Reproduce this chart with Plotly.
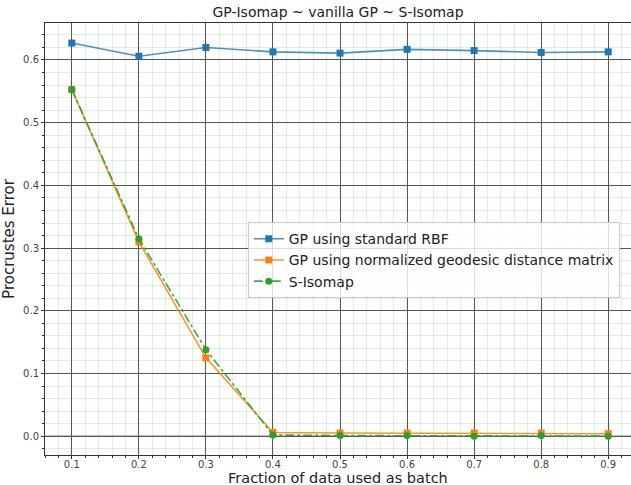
import plotly.graph_objects as go

fractions = [0.1, 0.2, 0.3, 0.4, 0.5, 0.6, 0.7, 0.8, 0.9]
gp_rbf = [0.627, 0.606, 0.620, 0.613, 0.611, 0.617, 0.615, 0.612, 0.613]
gp_geodesic = [0.553, 0.310, 0.125, 0.006, 0.005, 0.005, 0.005, 0.005, 0.004]
s_isomap = [0.553, 0.315, 0.138, 0.002, 0.001, 0.001, 0.000, 0.001, 0.000]
x_ticks = [0.1, 0.2, 0.3, 0.4, 0.5, 0.6, 0.7, 0.8, 0.9]
y_ticks = [0.0, 0.1, 0.2, 0.3, 0.4, 0.5, 0.6]

FONT = "DejaVu Sans"
PLOT_H = 485 - 23 - 30

fig = go.Figure()
fig.add_trace(go.Scatter(
    x=fractions, y=gp_rbf, mode="lines+markers", name="GP using standard RBF",
    line=dict(color="rgba(31,119,180,0.8)", width=1.6),
    marker=dict(symbol="square", size=7, color="#1f77b4"),
))
fig.add_trace(go.Scatter(
    x=fractions, y=gp_geodesic, mode="lines+markers",
    name="GP using normalized geodesic distance matrix",
    line=dict(color="rgba(255,127,14,0.85)", width=1.6),
    marker=dict(symbol="square", size=7, color="#ff7f0e"),
))
fig.add_trace(go.Scatter(
    x=fractions, y=s_isomap, mode="lines+markers", name="S-Isomap",
    line=dict(color="rgba(44,160,44,0.9)", width=1.6, dash="dashdot"),
    marker=dict(symbol="circle", size=7, color="#2ca02c"),
))

axis_common = dict(
    showgrid=True, gridcolor="#555555", gridwidth=1,
    showline=True, linecolor="#333333", linewidth=1, mirror=True,
    ticks="outside", ticklen=3, tickcolor="#333333",
    tickfont=dict(family=FONT, size=10, color="#444444"),
    zeroline=False, automargin=False,
)

fig.update_xaxes(
    **axis_common,
    ticklabelstandoff=-3,
    range=[0.06, 0.934], tickvals=x_ticks, ticktext=[f"{v:.1f}" for v in x_ticks],
    minor=dict(dtick=0.02, tick0=0.0, showgrid=True, gridcolor="rgba(0,140,0,0.13)",
               gridwidth=1, ticks="outside", ticklen=2, tickcolor="#333333"),
)
fig.update_yaxes(
    **axis_common,
    range=[-0.030, 0.659], tickvals=y_ticks, ticktext=[f"{v:.1f}" for v in y_ticks],
    minor=dict(dtick=0.02, tick0=0.0, showgrid=True, gridcolor="rgba(0,140,0,0.13)",
               gridwidth=1, ticks="outside", ticklen=2, tickcolor="#333333"),
    title=dict(text="Procrustes Error", font=dict(family=FONT, size=15, color="#222222"), standoff=6),
)

fig.add_annotation(text="Fraction of data used as batch", xref="paper", yref="paper",
                   x=(338 - 45) / 586, y=-(478 - 455) / PLOT_H, xanchor="center", yanchor="middle",
                   showarrow=False, font=dict(family=FONT, size=14.5, color="#222222"))

fig.add_shape(type="line", xref="paper", x0=0, x1=1, yref="y", y0=0, y1=0,
              line=dict(color="#888888", width=1.5), layer="below")

fig.update_layout(
    width=631, height=485,
    margin=dict(l=45, r=0, t=23, b=30, autoexpand=False),
    paper_bgcolor="white", plot_bgcolor="white",
    font=dict(family=FONT),
    title=dict(text="GP-Isomap ~ vanilla GP ~ S-Isomap", x=(45 + 293) / 631, xanchor="center",
               y=1 - 12 / 485, yanchor="middle", font=dict(family=FONT, size=14, color="#222222")),
    legend=dict(x=0.346, y=0.539, xanchor="left", yanchor="top",
                bgcolor="rgba(255,255,255,0.8)", bordercolor="#cccccc", borderwidth=1,
                font=dict(family=FONT, size=14, color="#222222"), itemwidth=30),
    showlegend=True,
)

fig.write_html("out.html")
